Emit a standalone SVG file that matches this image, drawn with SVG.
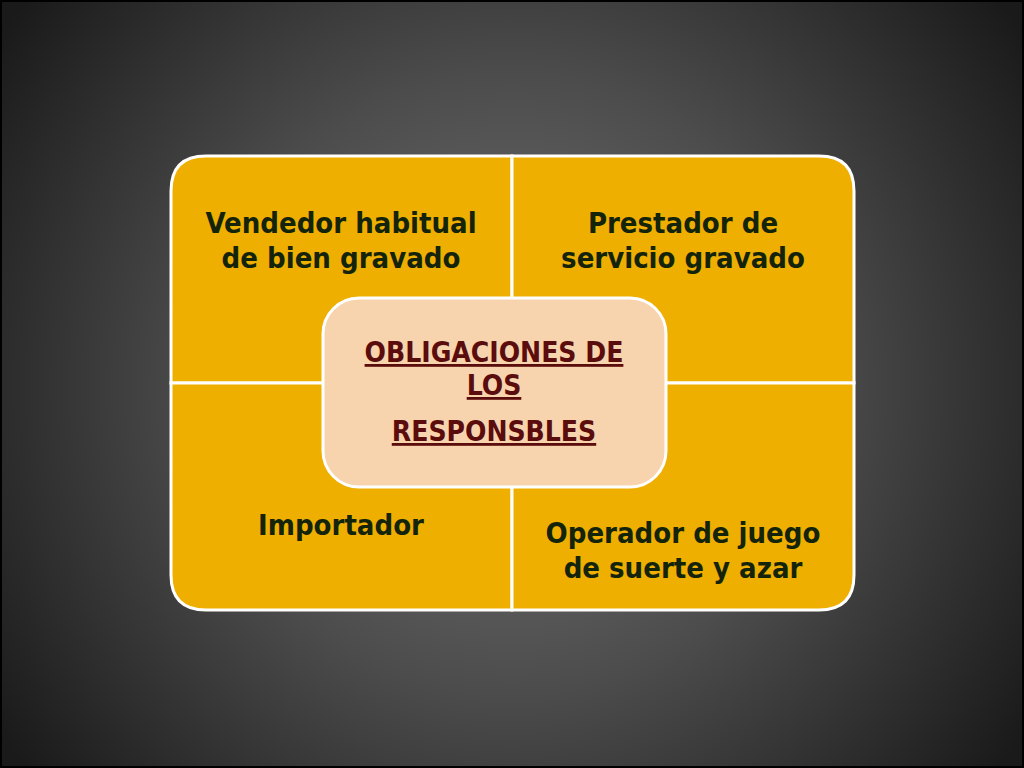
<svg xmlns="http://www.w3.org/2000/svg" width="1024" height="768" viewBox="0 0 1024 768">
<defs>
<radialGradient id="bg" cx="512" cy="384" r="620" gradientUnits="userSpaceOnUse">
<stop offset="0" stop-color="#747474"/>
<stop offset="0.5" stop-color="#4c4c4c"/>
<stop offset="1" stop-color="#1a1a1a"/>
</radialGradient>
<style>
.q{fill:#efaf00;stroke:#ffffff;stroke-width:3}
.t{font-family:"DejaVu Sans Condensed","DejaVu Sans",sans-serif;font-weight:bold;font-size:29px;fill:#13240b;text-anchor:middle}
.c{font-family:"DejaVu Sans Condensed","DejaVu Sans",sans-serif;font-weight:bold;font-size:28px;fill:#5b0c0c;text-anchor:middle;text-decoration:underline}
</style>
</defs>
<rect x="0" y="0" width="1024" height="768" fill="url(#bg)"/>
<rect x="1" y="1" width="1022" height="766" fill="none" stroke="#000" stroke-width="2"/>
<g id="q1">
<path class="q" d="M512,156 L512,383 L171,383 L171,191 Q171,156 206,156 Z"/>
<text class="t" x="341" y="233">Vendedor habitual</text>
<text class="t" x="341" y="268">de bien gravado</text>
</g>
<g id="q2">
<path class="q" d="M512,156 L819,156 Q854,156 854,191 L854,383 L512,383 Z"/>
<text class="t" x="683" y="233">Prestador de</text>
<text class="t" x="683" y="268">servicio gravado</text>
</g>
<g id="q3">
<path class="q" d="M171,383 L512,383 L512,610 L206,610 Q171,610 171,575 Z"/>
<text class="t" x="341" y="535">Importador</text>
</g>
<g id="q4">
<path class="q" d="M512,383 L854,383 L854,575 Q854,610 819,610 L512,610 Z"/>
<text class="t" x="683" y="543">Operador de juego</text>
<text class="t" x="683" y="578">de suerte y azar</text>
</g>
<g id="center">
<rect x="323" y="298" width="343" height="189" rx="36" ry="36" fill="#f7d4ad" stroke="#ffffff" stroke-width="3"/>
<text class="c" x="494" y="362">OBLIGACIONES DE</text>
<text class="c" x="494" y="395">LOS</text>
<text class="c" x="494" y="441">RESPONSBLES</text>
</g>
<g id="connectors"/>
</svg>
